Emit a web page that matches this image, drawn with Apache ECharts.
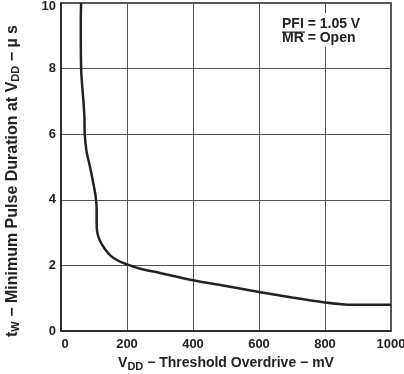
<!DOCTYPE html>
<html><head><meta charset="utf-8">
<script src="https://cdn.jsdelivr.net/npm/echarts@6/dist/echarts.min.js"></script>
<style>html,body{margin:0;padding:0;background:#fff}#c{width:404px;height:374px}</style>
</head><body><div id="c"></div>
<script>
var overdriveMV = [61, 60, 60, 61, 64, 68, 71, 72, 77, 88, 98, 105, 108, 108, 110, 118, 133, 150, 172, 200, 240, 300, 400, 500, 600, 700, 800, 860, 900, 1000];
var pulseUs     = [10, 9.5, 9, 8, 7.5, 7, 6.5, 6, 5.5, 5, 4.5, 4.1, 3.7, 3.3, 3.0, 2.75, 2.5, 2.3, 2.15, 2.03, 1.9, 1.77, 1.55, 1.37, 1.19, 1.02, 0.87, 0.81, 0.8, 0.8];
var xTicks = [0, 200, 400, 600, 800, 1000];
var yTicks = [0, 2, 4, 6, 8, 10];
var FONT = 'Liberation Sans, Arial, sans-serif';

var chart = echarts.init(document.getElementById('c'));
var data = overdriveMV.map(function(v, i){ return [v, pulseUs[i]]; });
var tickRich = {color: '#222', fontFamily: FONT, fontWeight: 'bold', fontSize: 13};
chart.setOption({
  animation: false,
  grid: {left: 61, right: 13, top: 3, bottom: 43, show: true, borderColor: '#222', borderWidth: 1.5,
         containLabel: false, outerBoundsMode: 'none'},
  xAxis: {
    type: 'value', min: xTicks[0], max: xTicks[xTicks.length-1], interval: 200,
    axisLine: {show: true, lineStyle: {color: '#222', width: 1.5}},
    axisTick: {show: false},
    splitLine: {show: true, lineStyle: {color: '#555', width: 1}},
    axisLabel: {color: '#222', fontFamily: FONT, fontWeight: 'bold', fontSize: 13, margin: 7,
                formatter: function(v){ return v === 0 ? '{z|0}' : String(v); },
                rich: {z: Object.assign({padding: [0,0,0,8]}, tickRich)}},
    name: '{m|V}{s|DD}{m| − Threshold Overdrive − mV}',
    nameLocation: 'middle', nameGap: 24,
    nameTextStyle: {rich: {
      m: {color: '#222', fontFamily: FONT, fontWeight: 'bold', fontSize: 14},
      s: {color: '#222', fontFamily: FONT, fontWeight: 'bold', fontSize: 11, verticalAlign: 'bottom', padding: [6,0,0,0]}
    }}
  },
  yAxis: {
    type: 'value', min: yTicks[0], max: yTicks[yTicks.length-1], interval: 2,
    axisLine: {show: true, lineStyle: {color: '#222', width: 1.5}},
    axisTick: {show: false},
    splitLine: {show: true, lineStyle: {color: '#555', width: 1}},
    axisLabel: {color: '#222', fontFamily: FONT, fontWeight: 'bold', fontSize: 13, margin: 5,
                formatter: function(v){ return v === 10 ? '{t|10}' : String(v); },
                rich: {t: Object.assign({padding: [6,0,0,0]}, tickRich)}},
    name: '{m|t}{s|W}{m| − Minimum Pulse Duration at V}{s|DD}{m| − µ s}',
    nameLocation: 'middle', nameGap: 40, nameRotate: 90,
    nameTextStyle: {padding: [0, 28, 0, 0], rich: {
      m: {color: '#222', fontFamily: FONT, fontWeight: 'bold', fontSize: 16},
      s: {color: '#222', fontFamily: FONT, fontWeight: 'bold', fontSize: 11, verticalAlign: 'bottom', padding: [6,0,0,0]}
    }}
  },
  series: [{
    type: 'line', data: data, smooth: 0.3, showSymbol: false,
    lineStyle: {color: '#222', width: 2.5}
  }],
  graphic: [
    {type: 'rect', left: 280, top: 13, shape: {width: 88, height: 34}, style: {fill: '#fff'}, z: 10},
    {type: 'text', left: 282, top: 17, style: {text: 'PFI = 1.05 V', fill: '#222', font: 'bold 14px ' + FONT}, z: 11},
    {type: 'text', left: 282, top: 31, style: {text: 'MR = Open', fill: '#222', font: 'bold 14px ' + FONT}, z: 11},
    {type: 'rect', left: 282, top: 31.5, shape: {width: 23, height: 1.2}, style: {fill: '#222'}, z: 11}
  ]
});
</script></body></html>
